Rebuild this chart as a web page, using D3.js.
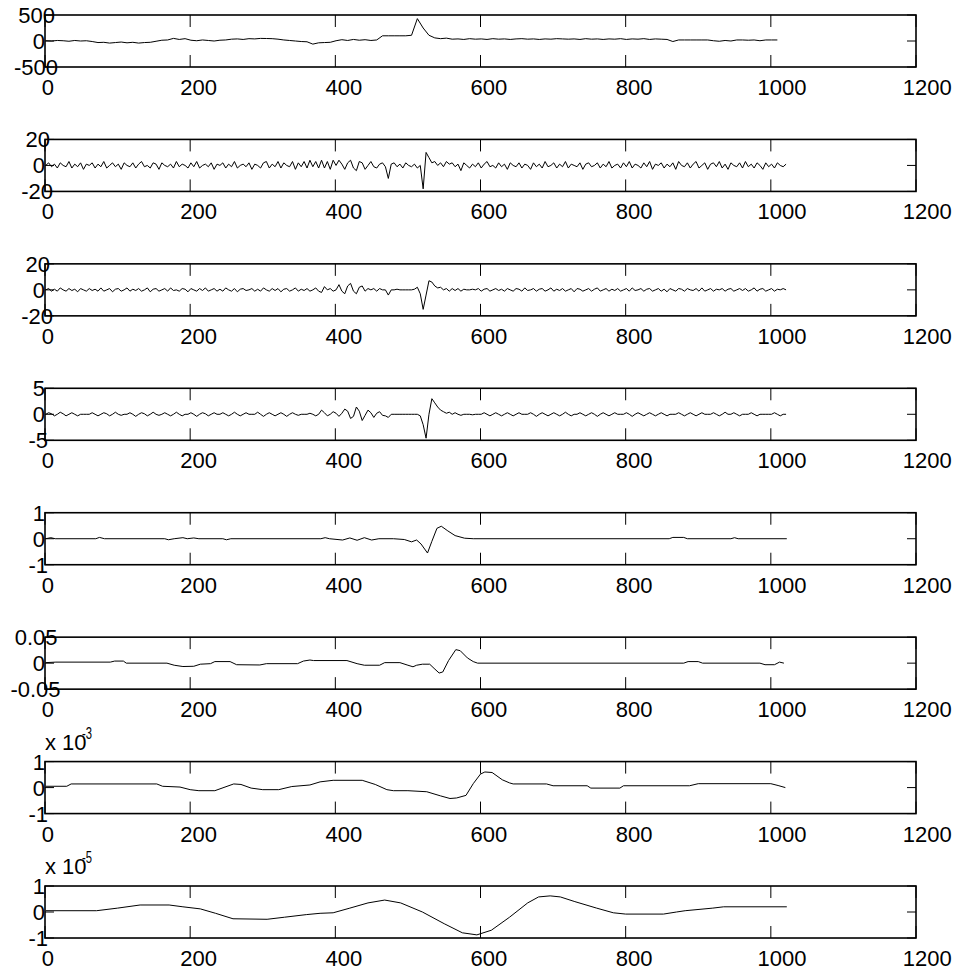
<!DOCTYPE html>
<html>
<head>
<meta charset="utf-8">
<script src="https://cdn.jsdelivr.net/npm/d3@7/dist/d3.min.js"></script>
<style>
  body { margin: 0; background: #fff; }
  text { font-family: Arial, "Liberation Sans", Helvetica, sans-serif; fill: #000; }
</style>
</head>
<body>
<div id="chart"></div>
<script>
var W = 959, H = 972
  , left = 45, right = 916
  , top0 = 15, step = 124.43, boxH = 52;

// DATA
// x axis ticks, shared by every panel
const xTicks = [0, 200, 400, 600, 800, 1000, 1200]

// panel 1: the signal, one value every 8 samples (samples 1, 9, 17, ...)
const sig = [5, 0, 10, 5, -5, 10, 0, 5, -10,
  -30, -25, -40, -30, -20, -35, -25, -40, -30, -25,
  -5, 15, 20, 50, 30, 45, 15, 5, 20, 10, 0, 15, 20,
  35, 40, 30, 45, 40, 50, 48, 45, 35, 20, 10, 0, -10, -15, -60,
  -35, -30, -25, 5, 25, 10, 30, 15, 25, 10, 20,
  100, 100, 100, 100, 100, 110, 430, 250, 110, 60, 45,
  55, 35, 40, 30, 45, 35, 40, 30, 45, 35, 40, 30, 40, 45, 35, 40, 30, 40, 35, 45,
  40, 35, 40, 30, 45, 35, 40, 30, 40,
  35, 45, 30, 40, 35, 45, 30, 40, 35, 30,
  -10, 20, 20, 20, 20, 20, 20, 5, -5, 10, 0,
  20, 20, 15, 20, 5, 20, 20, 20]

// panel 2: finest detail, one value every 4 samples
const d1 = [0, 2, -1, 1, -2, 2, 0, -1, 3, -2,
  1, -1, 2, -3, 1, 0, 2, -2, 1, -1,
  3, -2, 0, 2, -1, 1, -3, 2, 0, -1,
  2, -2, 1, 3, -1, 0, -2, 2, 1, -3,
  2, 0, -1, 1, -2, 3, -1, 1, 0, -2,
  2, -1, 3, -2, 0, 1, -1, 2, -3, 1,
  0, 2, -2, 1, -1, 3, -2, 0, 1, -1,
  2, -3, 1, 0, -2, 2, 3, -2, 1, -1,
  3, -2, 2, 0, -1, 3, -3, 2, -1, 3,
  -2, 4, -1, 3, -2, 4, -2, 3, -3, 4,
  0, 4, 1, -3, 2, 4, -2, -4, 3, 2,
  -3, 0, 3, -1, -2, 1, 2, -1, -10, 1,
  2, -1, 1, -2, 2, 0, -1, 1, -2, 0,
  -18, 10, 6, 2, 3, 0, 2, -1, 3, 1,
  2, -1, 1, -4, 2, 0, -2, 1, -1, 2,
  -2, 1, 3, -1, 0, -2, 2, -1, 1, -3,
  2, 0, -1, 2, -2, 1, 0, -3, 2, -1,
  1, -2, 3, -1, 0, 2, -2, 1, -1, 3,
  -2, 1, 0, -1, 2, -3, 1, 2, -1, 0,
  2, -2, 1, -1, 3, -2, 0, 1, -2, 2,
  -1, 3, -2, 1, 0, -2, 2, -1, 3, -3,
  1, 0, 2, -2, 1, -1, 2, -3, 3, 0,
  -1, 2, -2, 1, 3, -2, 0, 2, -3, 1,
  2, -1, 3, -2, 1, -3, 2, 0, -1, 2,
  -2, 3, -1, 1, -2, 2, 0, -3, 2, -1,
  1, -2, 2, 0, -1, 1]

// panel 3, every 4 samples
const d2 = [0, 1, -1, 0.5, -1, 1.5, 0, -1, 1, -0.5,
  0.5, -1.5, 1, 0, -1, 1, -0.5, 0.5, -1, 1.5,
  -1, 0, 1, -1.5, 0.5, 1, -1, 0, 1.5, -1,
  0.5, -0.5, 1, -1, 0, 1.5, -1.5, 0.5, 1, -1,
  0, 1, -1, 1.5, -0.5, 0, -1, 1, 0.5, -1.5,
  1, 0, -1, 1, -0.5, 1.5, -1, 0, 1, -1,
  0.5, -1, 1.5, 0, -1, 1, -1.5, 0.5, 1, -0.5,
  0, 1, -1, 0.5, -1, 1.5, 0, -1, 1, -0.5,
  1, -1.5, 0.5, 1, -1, 0, 1.5, -1, 0.5, -0.5,
  1, -1, 0, 1.5, -1, -2, 2.5, 0, 1, -1,
  0, 4, -1, -3, 3, 5, -1, -3, 2, 3,
  -1, 1, 0, 1, -1, 1, 0, 0, -4, 0,
  0, 0.5, 0, 0, 0, 0, 0, 0.5, 2, -3,
  -15, -4, 7, 6, 3, 1.5, 2, 0, 1, -1,
  1, -0.5, 1, -1, 0.5, 0, 0, 0.5, 0, 1,
  -1, 0.5, 1, -1, 0, 1, -0.5, 0.5, -1, 1,
  0, -1, 1, 0.5, -1, 1.5, -0.5, 0, 1, -1,
  0.5, 1, -1, 0, 1.5, -1, 0.5, -0.5, 1, -1,
  0, 1, -1.5, 1, 0.5, -1, 0, 1, -1, 0.5,
  1.5, -1, 0, 1, -1, 0.5, -0.5, 1, -1, 0,
  1, -1, 1.5, -0.5, 0, 1, -1, 0.5, 1, -1,
  0, 1, -1, 0.5, -1.5, 1, 0, -1, 1, 0.5,
  -1, 1, 0, -0.5, 1, -1, 1.5, -1, 0, 1,
  -1, 0.5, 0, 1, -1, 0.5, 1, -1, 0, 1,
  -0.5, 1, -1, 0, 1.5, -1, 0.5, 1, -1, 0,
  1, -1, 0.5, 0, 1, 0]

// panel 4, every 4 samples
const d3v = [0, 0.3, 0.1, -0.3, 0, 0.4, 0.1, -0.3, 0, 0.3,
  0, -0.3, 0, 0, 0, 0, 0.3, 0, -0.3, 0,
  0.3, 0.1, -0.3, 0, 0.4, 0, -0.2, 0, 0, 0.3,
  0, -0.4, 0, 0.3, 0.1, -0.3, 0, 0.4, 0, -0.2,
  0, 0.3, 0, -0.3, 0, 0.4, 0, -0.3, 0, 0,
  0.3, 0, -0.4, 0, 0.3, 0.1, -0.3, 0, 0.3, 0,
  0, 0.3, 0, -0.3, 0, 0.4, 0, -0.3, 0, 0.3,
  0, 0, 0, 0.4, 0, -0.4, 0, 0.3, 0, -0.3,
  0, 0.3, 0, -0.4, 0, 0.3, 0, -0.2, 0, 0,
  0, 0.2, 0, -0.3, 0, 0.8, 0.3, -0.3, 0, 0.5,
  0.2, -0.4, 0.2, 1, 0.6, -0.8, -0.4, 1.4, 0.6, -1.2,
  -0.2, 0.8, 0.3, -0.6, 0.2, 0.5, -0.2, -0.3, -0.6, 0,
  0, 0, 0, 0, 0, 0, 0, 0, 0, -0.3,
  -2, -4.6, 0, 3, 2.2, 1.4, 0.8, 0.5, 0.2, 0.4,
  0, 0.3, 0, -0.2, 0, 0, 0, -0.1, 0, 0,
  0, 0.3, 0, -0.3, 0, 0.3, 0, -0.3, 0, 0.3,
  0, -0.3, 0, 0.3, 0, 0, 0, 0.3, 0, -0.4,
  0, 0.3, 0, -0.3, 0, 0.3, 0, -0.3, 0, 0.4,
  0, -0.3, 0, 0, 0.3, 0, -0.3, 0, 0.3, 0,
  -0.4, 0, 0.3, 0, -0.3, 0, 0.3, 0, 0, 0,
  0.3, 0, -0.4, 0, 0.3, 0, -0.3, 0, 0.3, 0,
  -0.3, 0, 0.3, 0, -0.3, 0, 0, 0, 0.3, 0,
  -0.3, 0, 0.3, 0, -0.3, 0, 0.3, 0, 0, 0,
  0.3, 0, -0.3, 0, 0.4, 0, 0, 0.3, 0, -0.3,
  0, 0, 0, 0.3, 0, -0.3, 0, 0, 0, 0,
  0, 0.3, 0, -0.3, 0, 0]

// panels 5-8: smoother curves, given as [sample, value] breakpoints
const d4 = [[1,0],[8,0.04],[14,0],[70,0],[75,0.05],[82,0],[165,0],[170,-0.04],[178,0],
  [190,0.04],[196,0],[205,0.03],[212,0],[245,0],[250,-0.04],[256,0],[380,0],[386,0.04],
  [392,0],[410,-0.05],[420,0.03],[430,-0.06],[440,0.04],[450,-0.05],[460,0],[480,0],
  [495,-0.03],[505,-0.12],[512,-0.05],[518,-0.2],[527,-0.55],[533,-0.1],[540,0.4],
  [546,0.48],[555,0.3],[565,0.12],[578,0.02],[590,0],[860,0],[865,0.05],[880,0.05],
  [885,0],[945,0],[950,0.04],[955,0],[1022,0]]

const d5 = [[1,0.001],[15,0.002],[90,0.002],[96,0.004],[108,0.004],[112,0],[168,0],
  [178,-0.004],[190,-0.0065],[205,-0.006],[214,-0.002],[228,-0.001],[234,0.003],
  [255,0.003],[264,-0.003],[296,-0.0035],[305,-0.001],[348,-0.001],[356,0.004],
  [365,0.006],[370,0.005],[416,0.005],[430,-0.001],[440,-0.004],[461,-0.004],
  [468,0.001],[489,0.001],[500,-0.004],[507,-0.007],[512,-0.004],[520,-0.002],
  [530,-0.002],[536,-0.01],[543,-0.019],[548,-0.017],[556,0.005],[566,0.026],
  [572,0.024],[582,0.01],[590,0.003],[596,0],[880,0],[886,0.003],[900,0.003],
  [906,0],[985,0],[992,-0.003],[1005,-0.003],[1012,0.002],[1018,0]]

const d6 = [[1,0.05e-3],[30,0.05e-3],[36,0.14e-3],[154,0.14e-3],[162,0.05e-3],[186,0.02e-3],
  [200,-0.08e-3],[212,-0.12e-3],[234,-0.12e-3],[248,0.02e-3],[260,0.14e-3],[270,0.12e-3],
  [284,-0.02e-3],[300,-0.08e-3],[322,-0.08e-3],[340,0.04e-3],[365,0.1e-3],[379,0.22e-3],
  [397,0.28e-3],[437,0.28e-3],[455,0.12e-3],[471,-0.08e-3],[480,-0.12e-3],[500,-0.12e-3],
  [526,-0.16e-3],[545,-0.32e-3],[558,-0.42e-3],[567,-0.4e-3],[580,-0.3e-3],[590,0.15e-3],
  [600,0.52e-3],[606,0.6e-3],[616,0.58e-3],[630,0.3e-3],[640,0.18e-3],[645,0.14e-3],
  [691,0.14e-3],[700,0.07e-3],[747,0.07e-3],[752,-0.02e-3],[792,-0.02e-3],[797,0.07e-3],
  [888,0.07e-3],[900,0.15e-3],[1000,0.15e-3],[1010,0.08e-3],[1020,0]]

const a6 = [[1,0.05e-5],[71,0.05e-5],[100,0.15e-5],[131,0.27e-5],[171,0.27e-5],[190,0.2e-5],
  [214,0.12e-5],[235,-0.05e-5],[259,-0.26e-5],[306,-0.28e-5],[330,-0.2e-5],[360,-0.1e-5],
  [379,-0.05e-5],[397,-0.03e-5],[420,0.15e-5],[445,0.35e-5],[468,0.46e-5],[490,0.35e-5],
  [520,0],[550,-0.45e-5],[575,-0.8e-5],[595,-0.88e-5],[615,-0.7e-5],[640,-0.2e-5],
  [665,0.35e-5],[680,0.58e-5],[696,0.62e-5],[710,0.58e-5],[730,0.4e-5],[760,0.15e-5],
  [783,-0.03e-5],[800,-0.08e-5],[852,-0.08e-5],[870,0],[882,0.05e-5],[920,0.15e-5],
  [935,0.2e-5],[1022,0.2e-5]]

// y tick labels per panel (min, mid, max)
const yTickLabels = [
  ['-500', '0', '500'],
  ['-20', '0', '20'],
  ['-20', '0', '20'],
  ['-5', '0', '5'],
  ['-1', '0', '1'],
  ['-0.05', '0', '0.05'],
  ['-1', '0', '1'],
  ['-1', '0', '1']
]
const yMax = [500, 20, 20, 5, 1, 0.05, 1e-3, 1e-5]
const exponents = [null, null, null, null, null, null, '-3', '-5']

function every(arr, n) {
  return arr.map(function(v, i) { return [1 + n * i, v] })
}
const series = [every(sig, 8), every(d1, 4), every(d2, 4), every(d3v, 4), d4, d5, d6, a6]

var svg = d3.select('#chart').append('svg')
    .attr('width', W)
    .attr('height', H)

var x = d3.scaleLinear().domain([0, 1200]).range([left, right])

series.forEach(function(pts, k) {
  var t = top0 + k * step
  var y = d3.scaleLinear().domain([-yMax[k], yMax[k]]).range([t + boxH, t])
  var g = svg.append('g')

  // ticks inside the box, top and bottom
  g.selectAll('line.xt')
    .data(xTicks)
    .enter().append('line')
      .attr('x1', function(d) { return x(d) })
      .attr('x2', function(d) { return x(d) })
      .attr('y1', t)
      .attr('y2', t + 12)
      .attr('stroke', '#000')
  g.selectAll('line.xb')
    .data(xTicks)
    .enter().append('line')
      .attr('x1', function(d) { return x(d) })
      .attr('x2', function(d) { return x(d) })
      .attr('y1', t + boxH)
      .attr('y2', t + boxH - 12)
      .attr('stroke', '#000')

  var yt = [-yMax[k], 0, yMax[k]]
  yt.forEach(function(v) {
    g.append('line').attr('x1', left).attr('x2', left + 9)
      .attr('y1', y(v)).attr('y2', y(v)).attr('stroke', '#000')
    g.append('line').attr('x1', right).attr('x2', right - 9)
      .attr('y1', y(v)).attr('y2', y(v)).attr('stroke', '#000')
  })

  // the signal
  var line = d3.line()
      .x(function(d) { return x(d[0]) })
      .y(function(d) { return y(d[1]) })
  g.append('path')
    .datum(pts)
    .attr('d', line)
    .attr('fill', 'none')
    .attr('stroke', '#000')
    .attr('stroke-width', 1)

  g.append('rect')
    .attr('x', left)
    .attr('y', t)
    .attr('width', right - left)
    .attr('height', boxH)
    .attr('fill', 'none')
    .attr('stroke', '#000')
    .attr('stroke-width', 1.6)

  // x labels, shifted like the original renderer
  g.selectAll('text.xl')
    .data(xTicks)
    .enter().append('text')
      .attr('class', 'xl')
      .attr('font-size', 22)
      .attr('y', t + boxH + 28)
      .text(function(d) { return d })
      .attr('x', function(d) { return x(d) - 0.27 * this.getComputedTextLength() })

  // y labels
  g.selectAll('text.yl')
    .data(yt)
    .enter().append('text')
      .attr('class', 'yl')
      .attr('font-size', 22)
      .attr('y', function(d) { return y(d) + 8 })
      .text(function(d, i) { return yTickLabels[k][i] })
      .attr('x', function() { return 40 - 0.59 * this.getComputedTextLength() })

  if (exponents[k]) {
    g.append('text')
      .attr('font-size', 22)
      .attr('x', left)
      .attr('y', t - 12)
      .text('x 10')
    // small exponent sits over the last digit, squeezed like the original
    g.append('text')
      .attr('font-size', 17)
      .attr('x', left + 37)
      .attr('y', t - 23)
      .attr('textLength', 10)
      .attr('lengthAdjust', 'spacingAndGlyphs')
      .text(exponents[k])
  }
})
</script>
</body>
</html>
